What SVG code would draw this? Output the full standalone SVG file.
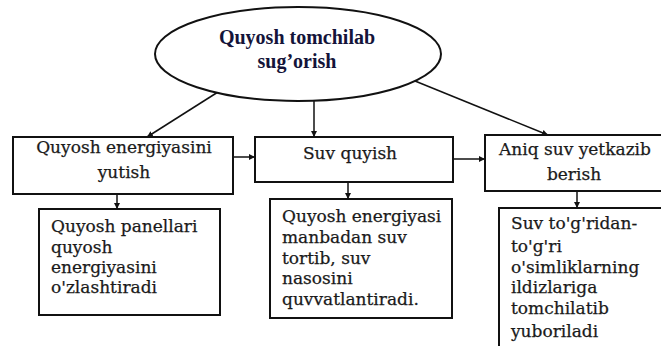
<svg xmlns="http://www.w3.org/2000/svg" width="661" height="346" viewBox="0 0 661 346">
<style>
.bg{fill:#fff}
.box{fill:#fff;stroke:#111;stroke-width:2}
.t{font-family:"DejaVu Serif","Liberation Serif",serif;font-size:17px;fill:#1a1a1a;stroke:#1a1a1a;stroke-width:0.25}
.c{text-anchor:middle}
.title{font-family:"Liberation Serif","Times New Roman",serif;font-size:20px;font-weight:bold;fill:#14143a;text-anchor:middle}
.ln{stroke:#111;stroke-width:1.5;fill:none;marker-end:url(#ah)}
</style>
<defs>
<marker id="ah" viewBox="0 0 10 10" refX="10" refY="5" markerWidth="6" markerHeight="6" orient="auto" markerUnits="userSpaceOnUse">
<path d="M0,0 L10,5 L0,10 z" fill="#111"/>
</marker>
</defs>
<rect class="bg" x="0" y="0" width="661" height="346"/>
<g id="connectors">
<line class="ln" x1="218" y1="92" x2="147" y2="137"/>
<line class="ln" x1="314" y1="99" x2="314" y2="137"/>
<line class="ln" x1="415" y1="81" x2="548" y2="135"/>
<line class="ln" x1="233" y1="157" x2="255" y2="157"/>
<line class="ln" x1="453" y1="159" x2="485" y2="159"/>
<line class="ln" x1="117" y1="194" x2="117" y2="209"/>
<line class="ln" x1="348" y1="182" x2="348" y2="199"/>
<line class="ln" x1="577" y1="191" x2="577" y2="208"/>
</g>
<g id="root">
<ellipse cx="298" cy="54" rx="143" ry="47" fill="#fff" stroke="#111" stroke-width="2"/>
<text class="title" x="297" y="44">Quyosh tomchilab</text>
<text class="title" x="297" y="68">sug’orish</text>
</g>
<g id="n1">
<rect class="box" x="13" y="137" width="220" height="57"/>
<text class="t c" x="124" y="153">Quyosh energiyasini</text>
<text class="t c" x="124" y="178">yutish</text>
</g>
<g id="n2">
<rect class="box" x="255" y="137" width="198" height="45"/>
<text class="t c" x="350" y="159">Suv quyish</text>
</g>
<g id="n3">
<rect class="box" x="485" y="135" width="185" height="56"/>
<text class="t c" x="575" y="155">Aniq suv yetkazib</text>
<text class="t c" x="574" y="180">berish</text>
</g>
<g id="n1a">
<rect class="box" x="39" y="209" width="181" height="106"/>
<text class="t" x="51" y="232">Quyosh panellari</text>
<text class="t" x="51" y="253">quyosh</text>
<text class="t" x="51" y="273">energiyasini</text>
<text class="t" x="51" y="293">o'zlashtiradi</text>
</g>
<g id="n2a">
<rect class="box" x="270" y="199" width="182" height="119"/>
<text class="t" x="282" y="222">Quyosh energiyasi</text>
<text class="t" x="282" y="243">manbadan suv</text>
<text class="t" x="282" y="264">tortib, suv</text>
<text class="t" x="282" y="284">nasosini</text>
<text class="t" x="282" y="305">quvvatlantiradi.</text>
</g>
<g id="n3a">
<rect class="box" x="499" y="208" width="180" height="160"/>
<text class="t" x="511" y="229">Suv to'g'ridan-</text>
<text class="t" x="511" y="252">to'g'ri</text>
<text class="t" x="511" y="273">o'simliklarning</text>
<text class="t" x="511" y="293">ildizlariga</text>
<text class="t" x="511" y="314">tomchilatib</text>
<text class="t" x="511" y="337">yuboriladi</text>
</g>
</svg>
